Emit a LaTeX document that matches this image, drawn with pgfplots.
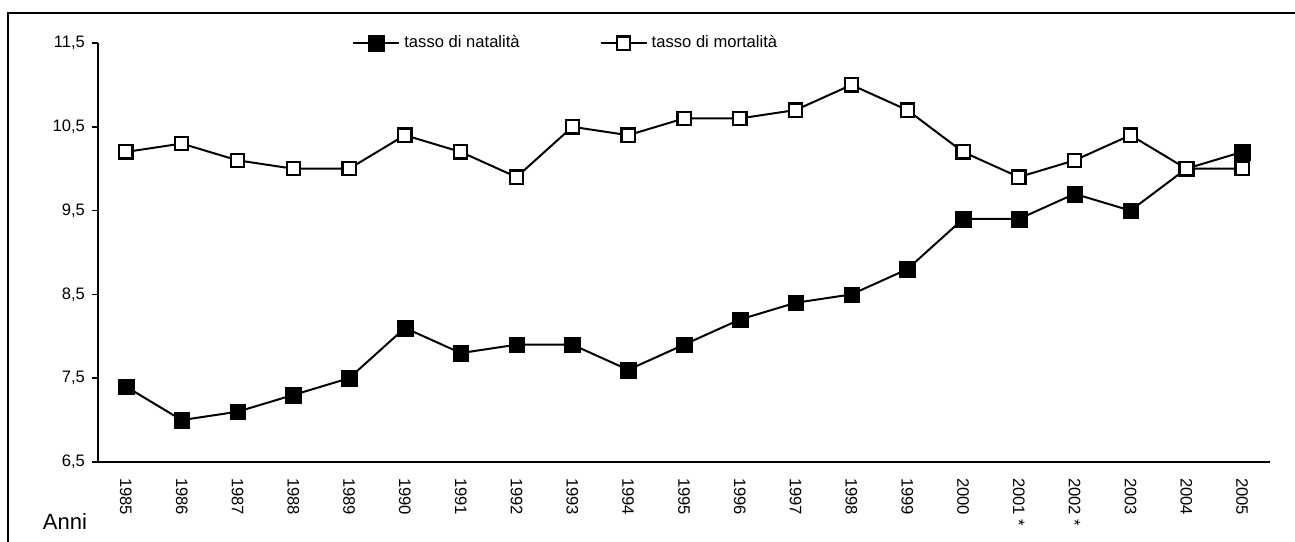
\documentclass[border=0pt]{standalone}
\usepackage{fontspec}
\setmainfont{Liberation Sans}
\usepackage{pgfplots}
\pgfplotsset{compat=1.18}
\begin{document}
\begin{tikzpicture}
\useasboundingbox (0,0) rectangle (647.5pt,270.5pt);
\draw[line width=0.9pt] (4pt,-5pt) -- (4pt,264pt) -- (652pt,264pt);
\node[font=\fontsize{11}{13}\selectfont] at (32.5pt,9.5pt) {Anni};
\begin{axis}[
  at={(49pt,39.5pt)}, anchor=south west,
  scale only axis, width=586pt, height=209.5pt,
  xmin=-0.5, xmax=20.5, ymin=6.5, ymax=11.5,
  axis x line=bottom, axis y line=left,
  axis line style={-, line width=0.8pt},
  xtick={0,...,20},
  xticklabels={1985,1986,1987,1988,1989,1990,1991,1992,1993,1994,1995,1996,1997,1998,1999,2000,2001 *,2002 *,2003,2004,2005},
  x tick style={draw=none},
  minor xtick={-0.5,0.5,...,20.5},
  minor x tick style={line width=0.8pt, black},
  minor tick length=3pt,
  major tick length=3pt,
  tick align=outside,
  ytick={6.5,7.5,8.5,9.5,10.5,11.5},
  y tick style={line width=0.8pt, black},
  yticklabel style={/pgf/number format/.cd, use comma, fixed, fixed zerofill, precision=1},
  /pgf/number format/assume math mode=true,
  tick label style={font=\fontsize{8.3}{9}\selectfont},
  xticklabel style={rotate=-90, anchor=west, xshift=1.5pt},
  legend columns=2,
  legend style={draw=none, fill=none, at={(axis description cs:0.2167,1)}, anchor=west, inner sep=0pt,
     font=\fontsize{8.3}{9}\selectfont, /tikz/every even column/.append style={column sep=38pt}},
  legend image code/.code={\draw[mark repeat=2,mark phase=2,#1] plot coordinates {(0pt,0pt) (11.5pt,0pt) (23pt,0pt)};},
  clip=false,
]
\addplot[black, line width=1pt, mark=square*, mark size=3.9pt, mark options={solid, fill=black, line width=0.1pt}]
coordinates {(0,7.4)(1,7.0)(2,7.1)(3,7.3)(4,7.5)(5,8.1)(6,7.8)(7,7.9)(8,7.9)(9,7.6)(10,7.9)(11,8.2)(12,8.4)(13,8.5)(14,8.8)(15,9.4)(16,9.4)(17,9.7)(18,9.5)(19,10.0)(20,10.2)};
\addlegendentry{tasso di natalità}
\addplot[black, line width=1pt, mark=square*, mark size=3.3pt, mark options={solid, fill=white, line width=1.1pt}]
coordinates {(0,10.2)(1,10.3)(2,10.1)(3,10.0)(4,10.0)(5,10.4)(6,10.2)(7,9.9)(8,10.5)(9,10.4)(10,10.6)(11,10.6)(12,10.7)(13,11.0)(14,10.7)(15,10.2)(16,9.9)(17,10.1)(18,10.4)(19,10.0)(20,10.0)};
\addlegendentry{tasso di mortalità}
\end{axis}
\end{tikzpicture}
\end{document}
